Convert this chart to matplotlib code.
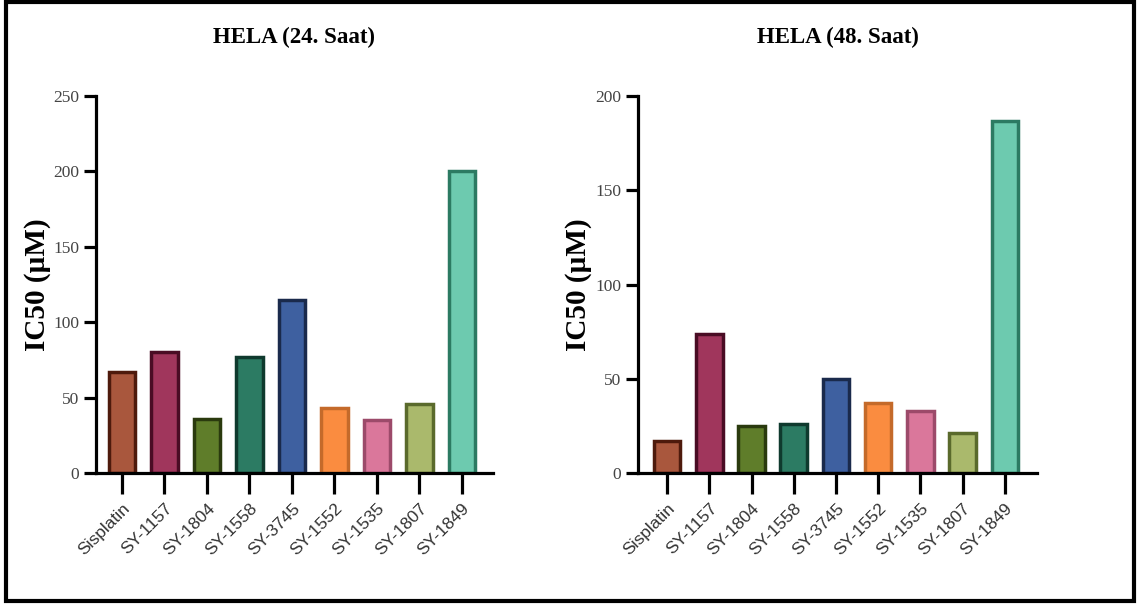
import matplotlib.pyplot as plt
from matplotlib.patches import Rectangle

compounds = ["Sisplatin", "SY-1157", "SY-1804", "SY-1558", "SY-3745",
             "SY-1552", "SY-1535", "SY-1807", "SY-1849"]
ic50_24h = [67, 80, 36, 77, 115, 43, 35, 46, 200]
ic50_48h = [17, 74, 25, 26, 50, 37, 33, 21, 187]

fill_colors = ["#A9573D", "#A0365C", "#5F7D2A", "#2C7B63", "#3E60A0",
               "#FA8C40", "#DA779B", "#AAB96C", "#6DCAAF"]
edge_colors = ["#4E1A0C", "#4A0C24", "#2A3A0E", "#0F3A2E", "#1A2A4C",
               "#C46A2A", "#9C4A6A", "#5A6A2C", "#2C7A62"]

serif = "Liberation Serif"
sans = "Liberation Sans"


def draw_panel(ax, values, title, ymax, yticks, xlim):
    x = list(range(len(compounds)))
    ax.bar(x, values, width=0.63, color=fill_colors, edgecolor=edge_colors,
           linewidth=2.5)
    ax.set_xlim(*xlim)
    ax.set_ylim(0, ymax)
    ax.set_yticks(yticks)
    ax.set_yticklabels([str(t) for t in yticks], family=serif, fontsize=12.5,
                       color="#444444")
    ax.set_xticks(x)
    ax.set_xticklabels(compounds, rotation=45, ha="right", rotation_mode="anchor",
                       family=sans, fontsize=12.5, color="#333333")
    for s in ["top", "right"]:
        ax.spines[s].set_visible(False)
    for s in ["left", "bottom"]:
        ax.spines[s].set_linewidth(2.3)
    ax.tick_params(axis="y", length=9, width=2.3, pad=3)
    ax.tick_params(axis="x", length=15, width=2.3, pad=5)
    ax.set_title(title, family=serif, fontweight="bold", fontsize=16.5, pad=38)
    ax.set_ylabel("IC50 (µM)", family=serif, fontweight="bold", fontsize=21,
                  labelpad=2)


fig = plt.figure(figsize=(11.4, 6.05), dpi=100)
ax1 = fig.add_axes([0.0842, 0.2182, 0.3482, 0.6231])
ax2 = fig.add_axes([0.5596, 0.2182, 0.3500, 0.6231])

draw_panel(ax1, ic50_24h, "HELA (24. Saat)", 250, [0, 50, 100, 150, 200, 250],
           (-0.61, 8.73))
draw_panel(ax2, ic50_48h, "HELA (48. Saat)", 200, [0, 50, 100, 150, 200],
           (-0.69, 8.76))

fig.patches.append(Rectangle((0.005, 0.006), 0.99, 0.99, transform=fig.transFigure,
                             fill=False, edgecolor="black", linewidth=3))

fig.savefig("out.png", dpi=100)
